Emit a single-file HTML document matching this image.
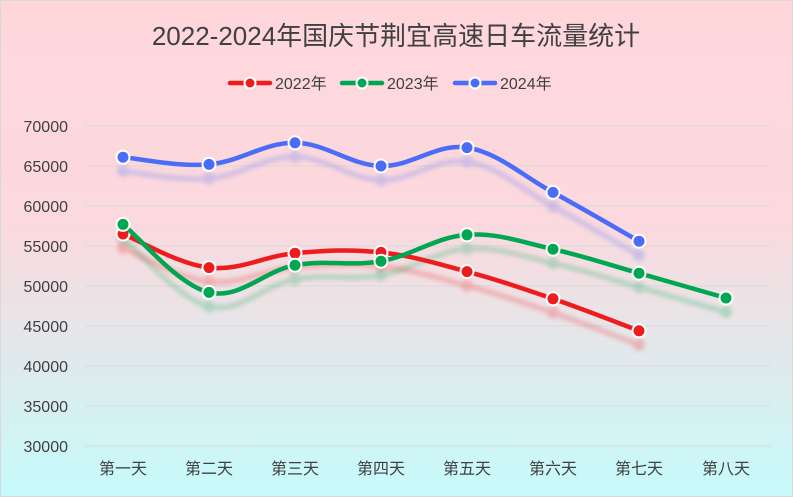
<!DOCTYPE html>
<html><head><meta charset="utf-8"><style>
html,body{margin:0;padding:0}
body{width:793px;height:497px;overflow:hidden;background:linear-gradient(180deg,#ffd7db 0%,#fbd9de 45%,#d9eef0 80%,#c6fbfb 100%);font-family:"Liberation Sans","Noto Sans CJK SC",sans-serif}
</style></head><body>
<svg id="s" width="793" height="497" xmlns="http://www.w3.org/2000/svg" style="position:absolute;left:0;top:0">
<defs><filter id="b" x="-10%" y="-20%" width="120%" height="140%"><feGaussianBlur stdDeviation="2"/></filter></defs>
<rect x="0.5" y="0.5" width="792" height="496" fill="none" stroke="#d9d9d9"/>
<text x="396" y="45" text-anchor="middle" font-size="26" fill="#404040" font-family="Liberation Sans,Noto Sans CJK SC,sans-serif">2022-2024年国庆节荆宜高速日车流量统计</text>
<g id="g"></g>
</svg>
<script>
const g=document.getElementById('g');let h='';
const xs=[123,209,295,381,467,553,639,726];
const Y=v=>446-(v-30000)*0.008;
for(let i=0;i<9;i++){const v=30000+i*5000,y=Y(v);
h+=`<line x1="85" x2="770" y1="${y}" y2="${y}" stroke="#d9d9d9" stroke-width="1"/>`;
h+=`<text x="68" y="${y+6}" text-anchor="end" font-size="16" fill="#404040">${v}</text>`;}
const days=['第一天','第二天','第三天','第四天','第五天','第六天','第七天','第八天'];
days.forEach((d,i)=>h+=`<text x="${xs[i]}" y="474" text-anchor="middle" font-size="16" fill="#404040">${d}</text>`);
const S=[
{c:'#ee1c1c',d:[56500,52300,54100,54200,51800,48400,44400]},
{c:'#00a651',d:[57700,49200,52600,53100,56400,54600,51600,48500]},
{c:'#4a6cf7',d:[66100,65200,67900,65000,67300,61700,55600]}];
function path(p){let s=`M${p[0][0]},${p[0][1]}`;for(let i=0;i<p.length-1;i++){const p0=p[i-1]||p[i],p1=p[i],p2=p[i+1],p3=p[i+2]||p2;const t=0.18;
s+=` C${p1[0]+(p2[0]-p0[0])*t},${p1[1]+(p2[1]-p0[1])*t} ${p2[0]-(p3[0]-p1[0])*t},${p2[1]-(p3[1]-p1[1])*t} ${p2[0]},${p2[1]}`;}return s;}
S.forEach(s=>{const p=s.d.map((v,i)=>[xs[i],Y(v)]);const q=p.map(a=>[a[0],a[1]+14]);
h+=`<g opacity="0.25" filter="url(#b)"><path d="${path(q)}" fill="none" stroke="${s.c}" stroke-width="5"/>${q.map(a=>`<circle cx="${a[0]}" cy="${a[1]}" r="6" fill="${s.c}"/>`).join('')}</g>`;});
S.forEach(s=>{const p=s.d.map((v,i)=>[xs[i],Y(v)]);
h+=`<path d="${path(p)}" fill="none" stroke="${s.c}" stroke-width="4.5" stroke-linecap="round"/>`;
p.forEach(a=>h+=`<circle cx="${a[0]}" cy="${a[1]}" r="6.5" fill="${s.c}" stroke="#fff" stroke-width="2"/>`);});
const L=[[230,'2022年'],[342,'2023年'],[455,'2024年']];
L.forEach((l,i)=>{const c=S[i].c;h+=`<line x1="${l[0]}" x2="${l[0]+40}" y1="83" y2="83" stroke="${c}" stroke-width="4.5" stroke-linecap="round"/><circle cx="${l[0]+20}" cy="83" r="5.5" fill="${c}" stroke="#fff" stroke-width="2"/><text x="${l[0]+45}" y="89" font-size="16" fill="#404040">${l[1]}</text>`;});
g.innerHTML=h;
</script>
</body></html>
